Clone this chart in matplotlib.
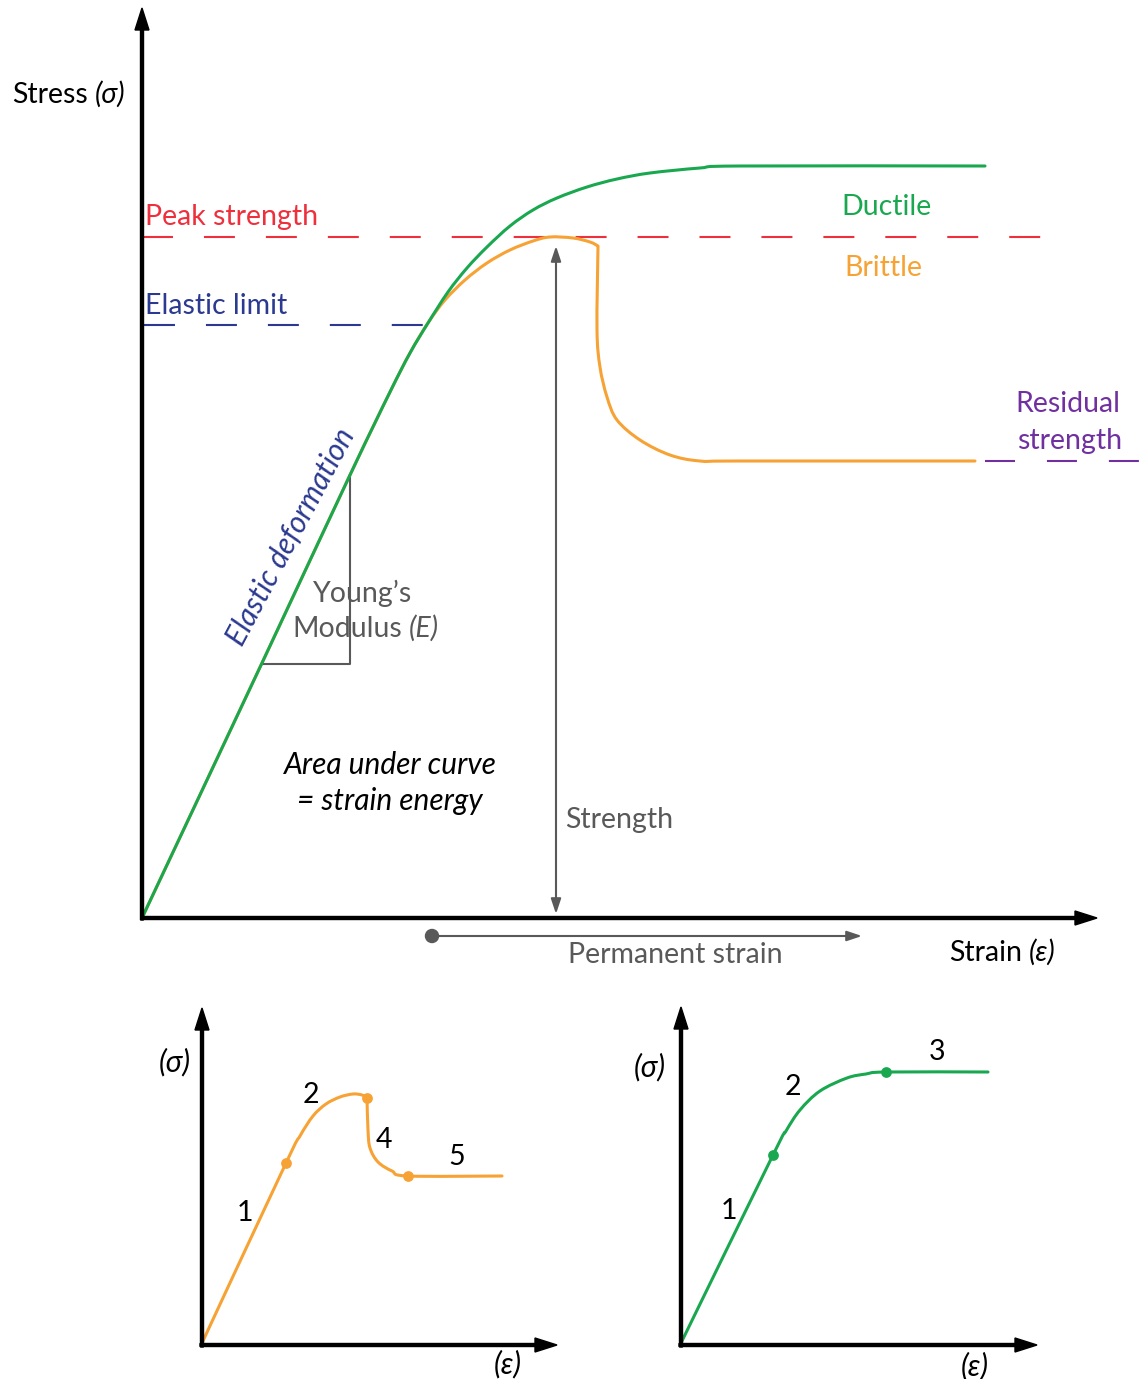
import matplotlib
matplotlib.use("Agg")
import matplotlib.pyplot as plt
from matplotlib.patches import Circle, PathPatch
from matplotlib.path import Path

plt.rcParams['font.family'] = ['Lato', 'DejaVu Sans']
plt.rcParams['lines.scale_dashes'] = False

# ---------------- data (pixel-space schematic readings) ----------------
ductile_x = [142, 262, 350, 390, 410, 428, 448, 467, 487, 510, 533, 557, 587, 617, 650, 700, 740, 985]
ductile_y = [918, 663, 475, 392, 353, 323, 292, 268, 247, 226, 210, 198, 187, 179, 173, 168, 166, 166]

brittle_x = [142, 262, 350, 390, 410, 428, 445, 465, 487, 510, 533, 550, 573, 590, 598, 597, 600, 607, 617, 640, 670, 700, 740, 975]
brittle_y = [918, 663, 475, 392, 353, 323, 300, 280, 263, 250, 241, 237, 238, 242, 246, 330, 367, 397, 420, 440, 455, 461, 461, 461]
brittle_corners = [14]

peak_level = 237
elastic_level = 325
residual_level = 461

inset_b_x = [202, 286, 300, 313, 326, 340, 353, 362, 367, 368, 370, 378, 392, 408, 502]
inset_b_y = [1343, 1163, 1136, 1116, 1104, 1097, 1094, 1095, 1098, 1130, 1148, 1162, 1171, 1176, 1176]
inset_b_corners = [8]
inset_b_dots_x = [286, 367, 408]
inset_b_dots_y = [1163, 1098, 1176]
inset_b_labels = ["1", "2", "4", "5"]

inset_d_x = [681, 773, 786, 800, 820, 847, 866, 886, 988]
inset_d_y = [1343, 1155, 1131, 1110, 1091, 1078, 1074, 1072, 1072]
inset_d_dots_x = [773, 886]
inset_d_dots_y = [1155, 1072]
inset_d_labels = ["1", "2", "3"]

# ---------------- styles ----------------
GREEN = "#19A84F"
ORANGE = "#F7A234"
RED = "#EE2F3C"
BLUE = "#2B3990"
PURPLE = "#7030A0"
GRAY = "#595959"
FS = 20.5
FSI = 21.5

W, H = 1144, 1379
fig = plt.figure(figsize=(W / 100, H / 100), dpi=100)
ax = fig.add_axes([0, 0, 1, 1])
ax.set_xlim(0, W)
ax.set_ylim(H, 0)
ax.axis("off")


def smooth_curve(xs, ys, corners=(), **kw):
    """Draw a smooth curve through the given points (Catmull-Rom as Bezier)."""
    pts = list(zip(xs, ys))
    cuts = [0] + list(corners) + [len(pts) - 1]
    verts, codes = [], []
    for a, b in zip(cuts[:-1], cuts[1:]):
        seg = pts[a:b + 1]
        if not verts:
            verts.append(seg[0]); codes.append(Path.MOVETO)
        n = len(seg)
        for i in range(n - 1):
            p0 = seg[i - 1] if i > 0 else seg[i]
            p1 = seg[i]
            p2 = seg[i + 1]
            p3 = seg[i + 2] if i + 2 < n else seg[i + 1]
            c1 = (p1[0] + (p2[0] - p0[0]) / 6, p1[1] + (p2[1] - p0[1]) / 6)
            c2 = (p2[0] - (p3[0] - p1[0]) / 6, p2[1] - (p3[1] - p1[1]) / 6)
            verts += [c1, c2, p2]
            codes += [Path.CURVE4] * 3
    ax.add_patch(PathPatch(Path(verts, codes), fill=False, capstyle="round",
                           joinstyle="round", **kw))


def axis_arrow(x0, y0, x1, y1):
    ax.arrow(x0, y0, x1 - x0, y1 - y0, width=3, head_width=14, head_length=22,
             length_includes_head=True, color="black", zorder=5)


def follow(prev, s, color, italic=False, gap=5, size=FS):
    """Place text s right after an existing text artist."""
    return ax.annotate(s, xy=(1, 0), xycoords=prev, xytext=(gap, 0),
                       textcoords="offset points", ha="left", va="bottom",
                       fontsize=size, color=color,
                       style="italic" if italic else "normal")


# main axes
axis_arrow(142, 920, 142, 8)
axis_arrow(141, 918, 1097, 918)

# dashed reference lines
dash = (22.3, 22.3)
ax.plot([142, 1045], [peak_level, peak_level], color=RED, lw=1.5, dashes=dash, zorder=2)
ax.plot([144, 428], [elastic_level, elastic_level], color=BLUE, lw=1.5, dashes=dash, zorder=2)
ax.plot([985, 1140], [residual_level, residual_level], color=PURPLE, lw=1.5, dashes=(21.6, 23), zorder=2)

# curves
smooth_curve(brittle_x, brittle_y, brittle_corners, edgecolor=ORANGE, lw=2.2, zorder=3)
smooth_curve(ductile_x, ductile_y, (), edgecolor=GREEN, lw=2.2, zorder=4)

# Young's modulus triangle
ax.plot([262, 350, 350], [664, 664, 475], color=GRAY, lw=1.5, zorder=3)

# strength double arrow
ax.annotate("", xy=(556, 246), xytext=(556, 914),
            arrowprops=dict(arrowstyle="<|-|>,head_length=0.9,head_width=0.3", lw=1.5,
                            color=GRAY, shrinkA=0, shrinkB=0), zorder=3)
# permanent strain arrow
ax.annotate("", xy=(862, 936), xytext=(432, 936),
            arrowprops=dict(arrowstyle="-|>,head_length=0.9,head_width=0.3", lw=1.5,
                            color=GRAY, shrinkA=0, shrinkB=0), zorder=3)
ax.add_patch(Circle((432, 936), 6.5, color=GRAY, zorder=4))

# texts
t = ax.text(12, 95, "Stress", fontsize=FS, ha="left", va="center", color="black")
follow(t, "(σ)", "black", italic=True)
ax.text(145, 217, "Peak strength", fontsize=FS, ha="left", va="center", color=RED)
ax.text(145, 306, "Elastic limit", fontsize=FS, ha="left", va="center", color=BLUE)
ax.text(887, 207, "Ductile", fontsize=FS, ha="center", va="center", color=GREEN)
ax.text(883, 268, "Brittle", fontsize=FS, ha="center", va="center", color=ORANGE)
ax.text(1068, 404, "Residual", fontsize=FS, ha="center", va="center", color=PURPLE)
ax.text(1070, 441, "strength", fontsize=FS, ha="center", va="center", color=PURPLE)
ax.text(291, 537, "Elastic deformation", fontsize=FSI, ha="center", va="center", color=BLUE,
        style="italic", rotation=62, rotation_mode="anchor")
ax.text(363, 593, "Young\u2019s", fontsize=FS, ha="center", va="center", color=GRAY)
t = ax.text(292, 629, "Modulus", fontsize=FS, ha="left", va="center", color=GRAY)
follow(t, "(E)", GRAY, italic=True)
ax.text(390, 765, "Area under curve", fontsize=FSI, ha="center", va="center", color="black", style="italic")
ax.text(390, 801, "= strain energy", fontsize=FSI, ha="center", va="center", color="black", style="italic")
ax.text(565, 820, "Strength", fontsize=FS, ha="left", va="center", color=GRAY)
ax.text(675, 955, "Permanent strain", fontsize=FS, ha="center", va="center", color=GRAY)
t = ax.text(949, 953, "Strain", fontsize=FS, ha="left", va="center", color="black")
follow(t, "(ε)", "black", italic=True)

# ---------------- insets ----------------
axis_arrow(202, 1347, 202, 1008)
axis_arrow(200, 1345, 557, 1345)
axis_arrow(681, 1347, 681, 1007)
axis_arrow(679, 1345, 1037, 1345)

smooth_curve(inset_b_x, inset_b_y, inset_b_corners, edgecolor=ORANGE, lw=2.2, zorder=3)
ax.scatter(inset_b_dots_x, inset_b_dots_y, s=60, color=ORANGE, zorder=4, linewidths=0)
smooth_curve(inset_d_x, inset_d_y, (), edgecolor=GREEN, lw=2.2, zorder=3)
ax.scatter(inset_d_dots_x, inset_d_dots_y, s=60, color=GREEN, zorder=4, linewidths=0)

for lab, (x, y) in zip(inset_b_labels, [(245, 1213), (311, 1095), (384, 1140), (457, 1157)]):
    ax.text(x, y, lab, fontsize=FS, ha="center", va="center", color="black")
for lab, (x, y) in zip(inset_d_labels, [(729, 1211), (793, 1087), (937, 1052)]):
    ax.text(x, y, lab, fontsize=FS, ha="center", va="center", color="black")

ax.text(175, 1062, "(σ)", fontsize=FSI, ha="center", va="center", color="black", style="italic")
ax.text(650, 1067, "(σ)", fontsize=FSI, ha="center", va="center", color="black", style="italic")
ax.text(508, 1364, "(ε)", fontsize=FSI, ha="center", va="center", color="black", style="italic")
ax.text(975, 1366, "(ε)", fontsize=FSI, ha="center", va="center", color="black", style="italic")

fig.savefig("out.png", dpi=100, facecolor="white")
